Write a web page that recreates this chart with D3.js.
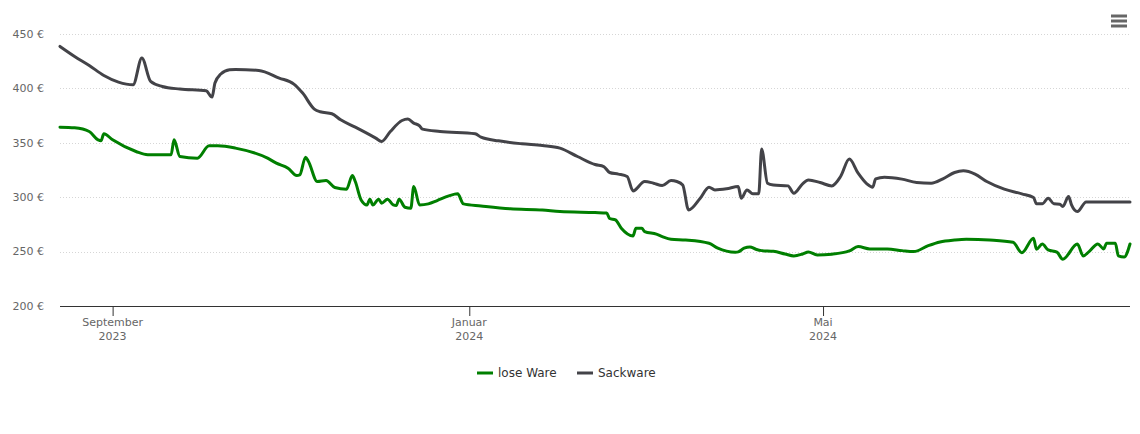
<!DOCTYPE html>
<html>
<head>
<meta charset="utf-8">
<script src="https://cdn.jsdelivr.net/npm/d3@7"></script>
<style>
    body { margin: 0; background: #fff; }
    svg { display: block; font-family: "DejaVu Sans", sans-serif; }
</style>
</head>
<body>
<div id="svg"></div>
<script>
// prices (€ per t)
var loseDates = ["2023-08-14", "2023-08-19", "2023-08-24", "2023-08-27", "2023-08-28", "2023-08-29", "2023-09-01",
    "2023-09-09", "2023-09-13", "2023-09-21", "2023-09-22", "2023-09-24", "2023-09-30", "2023-10-04", "2023-10-07",
    "2023-10-13", "2023-10-24", "2023-10-27", "2023-10-31", "2023-11-03", "2023-11-04", "2023-11-06", "2023-11-07",
    "2023-11-10", "2023-11-13", "2023-11-16", "2023-11-20", "2023-11-22", "2023-11-23", "2023-11-25", "2023-11-27",
    "2023-11-28", "2023-11-29", "2023-12-01", "2023-12-02", "2023-12-04", "2023-12-06", "2023-12-07", "2023-12-08",
    "2023-12-10", "2023-12-12", "2023-12-13", "2023-12-15", "2023-12-18", "2023-12-21", "2023-12-25", "2023-12-28",
    "2023-12-30", "2024-01-05", "2024-01-15", "2024-01-26", "2024-02-01", "2024-02-13", "2024-02-17", "2024-02-18",
    "2024-02-20", "2024-02-22", "2024-02-26", "2024-02-27", "2024-02-29", "2024-03-01", "2024-03-05", "2024-03-07",
    "2024-03-10", "2024-03-15", "2024-03-23", "2024-03-26", "2024-04-01", "2024-04-02", "2024-04-04", "2024-04-06",
    "2024-04-08", "2024-04-10", "2024-04-14", "2024-04-18", "2024-04-21", "2024-04-24", "2024-04-26", "2024-04-29",
    "2024-05-04", "2024-05-10", "2024-05-13", "2024-05-17", "2024-05-23", "2024-05-28", "2024-06-01", "2024-06-06",
    "2024-06-10", "2024-06-15", "2024-06-19", "2024-06-27", "2024-07-05", "2024-07-08", "2024-07-12", "2024-07-13",
    "2024-07-15", "2024-07-17", "2024-07-20", "2024-07-22", "2024-07-27", "2024-07-29", "2024-07-31", "2024-08-03",
    "2024-08-05", "2024-08-06", "2024-08-09", "2024-08-10", "2024-08-12", "2024-08-14"];
var loseValues = [364.4, 363.8, 360.4, 352.7, 351.8, 358.3, 352.7,
    342, 339, 339, 352.7, 337.4, 335.9, 347.2, 347.2,
    345.1, 335.9, 331.3, 326.7, 319.9, 320.5, 336.8, 332.8,
    314.4, 315.3, 308.9, 307.4, 319.9, 314.4, 297.5, 292.9,
    298.2, 292.9, 298.2, 294.5, 298.2, 292.9, 292.3, 298.2,
    290.8, 289.9, 309.8, 292.9, 293.9, 296.9, 301.2, 303.1,
    293.9, 292, 289.3, 288.3, 286.8, 285.9, 285.5, 280.4,
    279.1, 271.5, 264.4, 271.5, 271.5, 268.4, 266, 263.8,
    261.4, 260.7, 257.7, 253.1, 249.4, 249.8, 253.1, 254.3,
    252.2, 250.9, 250.3, 247.8, 246, 247.8, 249.7, 246.9,
    247.6, 250.6, 254.6, 252.4, 252.4, 250.9, 250, 255.5,
    258.9, 260.7, 261.4, 260.7, 258.6, 249, 262.3, 252.2,
    257, 251.5, 249.5, 243, 257, 246, 250, 257,
    252.5, 257.7, 257.7, 246, 245, 257];

var sackDates = ["2023-08-14", "2023-08-19", "2023-08-24", "2023-08-29", "2023-09-03", "2023-09-08", "2023-09-11",
    "2023-09-14", "2023-09-18", "2023-09-24", "2023-10-03", "2023-10-05", "2023-10-06", "2023-10-08", "2023-10-11",
    "2023-10-13", "2023-10-21", "2023-10-28", "2023-11-02", "2023-11-05", "2023-11-09", "2023-11-11", "2023-11-15",
    "2023-11-18", "2023-11-23", "2023-11-30", "2023-12-02", "2023-12-05", "2023-12-09", "2023-12-11", "2023-12-13",
    "2023-12-15", "2023-12-16", "2023-12-22", "2024-01-03", "2024-01-05", "2024-01-11", "2024-01-19", "2024-01-26",
    "2024-02-01", "2024-02-07", "2024-02-13", "2024-02-16", "2024-02-18", "2024-02-21", "2024-02-24", "2024-02-26",
    "2024-03-01", "2024-03-04", "2024-03-07", "2024-03-10", "2024-03-12", "2024-03-14", "2024-03-16", "2024-03-20",
    "2024-03-23", "2024-03-25", "2024-03-29", "2024-04-02", "2024-04-03", "2024-04-05", "2024-04-07", "2024-04-09",
    "2024-04-10", "2024-04-12", "2024-04-14", "2024-04-19", "2024-04-21", "2024-04-24", "2024-04-26", "2024-04-30",
    "2024-05-04", "2024-05-07", "2024-05-10", "2024-05-13", "2024-05-16", "2024-05-18", "2024-05-19", "2024-05-22",
    "2024-05-28", "2024-06-02", "2024-06-07", "2024-06-11", "2024-06-15", "2024-06-18", "2024-06-22", "2024-06-26",
    "2024-07-02", "2024-07-08", "2024-07-12", "2024-07-13", "2024-07-15", "2024-07-17", "2024-07-19", "2024-07-21",
    "2024-07-22", "2024-07-24", "2024-07-25", "2024-07-27", "2024-07-30", "2024-08-14"];
var sackValues = [438.6, 429.4, 421.1, 411.9, 405.8, 403.3, 427.9,
    406.4, 401.8, 399.4, 397.8, 392, 404.9, 413.2, 417.2,
    417.4, 416.5, 409.5, 404, 395.7, 381, 378.5, 376.7,
    371.1, 364.4, 354.3, 351.2, 360.4, 370.5, 371.8, 368.1,
    365.6, 362.6, 360.4, 358.3, 355.2, 351.8, 349.1, 347.5,
    345.1, 337.4, 330, 328.2, 322.7, 321.2, 319, 305.8,
    314.4, 312.9, 310.7, 315.3, 314.4, 311.3, 288.3, 299.1,
    309.2, 306.7, 307.7, 309.8, 299.1, 306.7, 303.1, 303.1,
    344.2, 312.9, 311.3, 310.4, 303.7, 312.3, 315.9, 313.5,
    310.4, 319, 335, 322.1, 312.3, 309.2, 316.9, 318.4,
    316.6, 313.5, 312.9, 316.9, 322.7, 324.2, 321.2, 314.4,
    307.4, 303.1, 299.7, 293.9, 293.9, 299.1, 293.9, 293.6,
    291.4, 300.6, 292.9, 286.8, 295.7, 295.7];

var seriesNames = ["lose Ware", "Sackware"];
var seriesColors = ["#007f00", "#434348"];

var yTicks = [200, 250, 300, 350, 400, 450];
var xTickDates = ["2023-09-01", "2024-01-01", "2024-05-01"];
var xTickMonths = ["September", "Januar", "Mai"];
var xTickYears = ["2023", "2024", "2024"];

// set the dimensions and margins of the graph
var margin = {
        top: 34,
        right: 10,
        bottom: 128,
        left: 60
    },
    width = 1140 - margin.left - margin.right,
    height = 434 - margin.top - margin.bottom;

var parse = d3.timeParse("%Y-%m-%d");

var series = [
    loseDates.map(function(d, i) { return { date: parse(d), value: loseValues[i] }; }),
    sackDates.map(function(d, i) { return { date: parse(d), value: sackValues[i] }; })
];

// set the ranges
var x = d3.scaleTime()
    .domain(d3.extent(loseDates.concat(sackDates), parse))
    .range([0, width]);

var y = d3.scaleLinear()
    .domain([200, 450])
    .range([height, 0]);

var svgRoot = d3.select("#svg").append("svg")
    .attr("width", 1140)
    .attr("height", 434);

var svg = svgRoot.append("g")
    .attr("transform", "translate(" + margin.left + "," + margin.top + ")");

// dotted grid lines
svg.selectAll(".grid")
    .data(yTicks.slice(1))
    .enter().append("line")
    .attr("class", "grid")
    .attr("x1", 0)
    .attr("x2", width)
    .attr("y1", function(d) { return Math.round(y(d)) + 0.5; })
    .attr("y2", function(d) { return Math.round(y(d)) + 0.5; })
    .style("stroke", "#d6d6d6")
    .style("stroke-dasharray", "1,2");

// y labels
svg.selectAll(".ylabel")
    .data(yTicks)
    .enter().append("text")
    .attr("class", "ylabel")
    .attr("x", -16)
    .attr("y", function(d) { return y(d); })
    .attr("dy", "0.35em")
    .attr("text-anchor", "end")
    .style("font-size", "11px")
    .style("fill", "#666")
    .text(function(d) { return d + " €"; });

// x axis
var xAxis = svg.append("g")
    .attr("transform", "translate(0," + height + ")")
    .call(d3.axisBottom(x)
        .tickValues(xTickDates.map(parse))
        .tickSize(10)
        .tickFormat(""));

xAxis.select(".domain")
    .attr("d", "M0,0.5H" + width)
    .style("stroke", "#333");
xAxis.selectAll(".tick line").style("stroke", "#333");

var xlab = svg.selectAll(".xlabel")
    .data(xTickDates)
    .enter().append("text")
    .attr("class", "xlabel")
    .attr("x", function(d) { return x(parse(d)); })
    .attr("y", height + 20)
    .attr("text-anchor", "middle")
    .style("font-size", "11px")
    .style("fill", "#666");

xlab.append("tspan")
    .attr("x", function(d) { return x(parse(d)); })
    .text(function(d, i) { return xTickMonths[i]; });
xlab.append("tspan")
    .attr("x", function(d) { return x(parse(d)); })
    .attr("dy", 14)
    .text(function(d, i) { return xTickYears[i]; });

// the lines
var line = d3.line()
    .curve(d3.curveMonotoneX)
    .x(function(d) { return x(d.date); })
    .y(function(d) { return y(d.value); });

svg.selectAll(".series")
    .data(series)
    .enter().append("path")
    .attr("class", "series")
    .attr("d", line)
    .style("fill", "none")
    .style("stroke", function(d, i) { return seriesColors[i]; })
    .style("stroke-width", 3)
    .style("stroke-linejoin", "round")
    .style("stroke-linecap", "round");

// legend
var legend = svgRoot.append("g")
    .attr("transform", "translate(477,373)");

var item = legend.selectAll(".item")
    .data(seriesNames)
    .enter().append("g")
    .attr("class", "item")
    .attr("transform", function(d, i) { return "translate(" + (i * 100) + ",0)"; });

item.append("line")
    .attr("x1", 0)
    .attr("x2", 16)
    .style("stroke", function(d, i) { return seriesColors[i]; })
    .style("stroke-width", 3);

item.append("text")
    .attr("x", 21)
    .attr("dy", "0.35em")
    .style("font-size", "12px")
    .style("fill", "#333")
    .text(function(d) { return d; });

// burger menu
svgRoot.selectAll(".menu")
    .data([0, 1, 2])
    .enter().append("line")
    .attr("class", "menu")
    .attr("x1", 1111)
    .attr("x2", 1127)
    .attr("y1", function(d) { return 16 + d * 5; })
    .attr("y2", function(d) { return 16 + d * 5; })
    .style("stroke", "#666")
    .style("stroke-width", 3);
</script>
</body>
</html>
